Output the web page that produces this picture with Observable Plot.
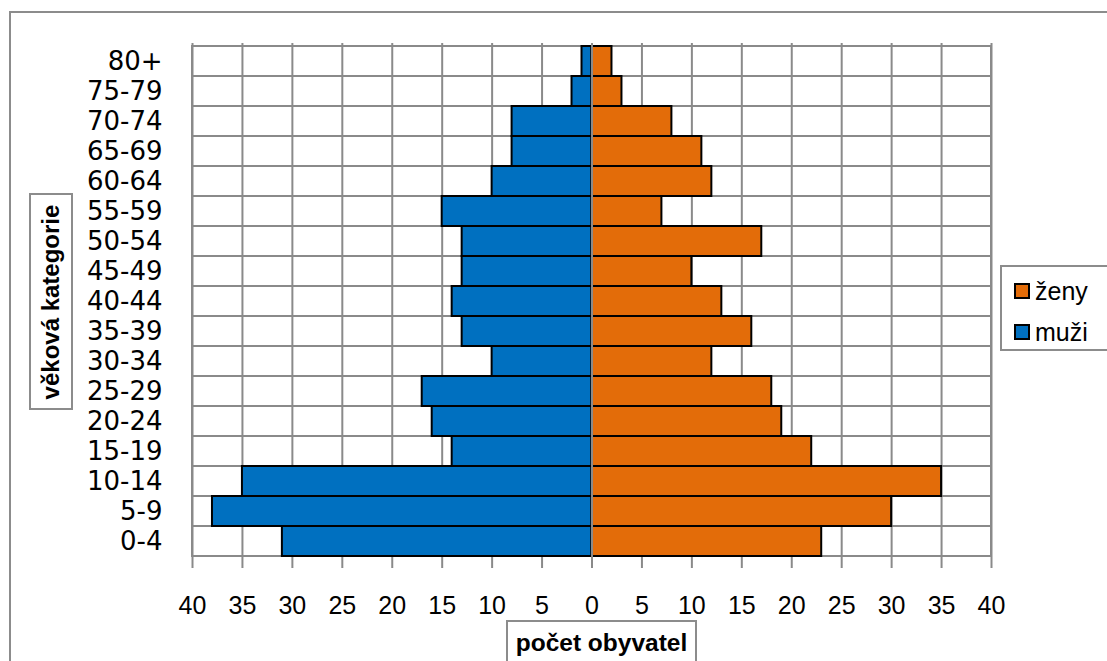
<!DOCTYPE html>
<html><head><meta charset="utf-8">
<script src="https://cdn.jsdelivr.net/npm/d3@7"></script>
<script src="https://cdn.jsdelivr.net/npm/@observablehq/plot@0.6"></script>
<style>
body{margin:0;background:#fff;}
#wrap{position:relative;width:1107px;height:661px;overflow:hidden;background:#fff;}
#wrap svg{position:absolute;left:0;top:0;}
.box{position:absolute;border:2px solid #8c8c8c;background:#fff;box-sizing:border-box;}
.lbl{font-family:"Liberation Sans","Open Sans",sans-serif;color:#000;}
</style></head>
<body>
<div id="wrap">
  <div class="box" style="left:9px;top:11px;width:1200px;height:700px;background:none;"></div>
</div>
<script>
const ages = ["0-4","5-9","10-14","15-19","20-24","25-29","30-34","35-39","40-44","45-49","50-54","55-59","60-64","65-69","70-74","75-79","80+"];
const muzi = [31,38,35,14,16,17,10,13,14,13,13,15,10,8,8,2,1];
const zeny = [23,30,35,22,19,18,12,16,13,10,17,7,12,11,8,3,2];
const xTicks = d3.range(-40, 41, 5);
const seriesNames = ["ženy","muži"];
const seriesColors = ["#E36C09","#0070C0"];

const rowsM = ages.map((a,i)=>({age:a, v:muzi[i]}));
const rowsZ = ages.map((a,i)=>({age:a, v:zeny[i]}));

const chart = Plot.plot({
  width: 1107,
  height: 661,
  marginLeft: 192,
  marginRight: 116,
  marginTop: 43,
  marginBottom: 102,
  style: {fontFamily: "'DejaVu Sans', sans-serif", fontSize: "26px", color: "#000", background: "transparent"},
  x: {domain: [-40, 40]},
  y: {domain: ages.slice().reverse(), padding: 0},
  marks: [
    Plot.gridX(xTicks, {stroke: "#8a8a8a", strokeOpacity: 1, strokeWidth: 2}),
    Plot.barX(ages, {y: d=>d, x1: -40, x2: 40, fill: "none", stroke: "#8a8a8a", strokeWidth: 2}),
    Plot.barX(rowsM, {y: "age", x1: 0, x2: d=>-d.v, fill: seriesColors[1], stroke: "#000", strokeWidth: 2}),
    Plot.barX(rowsZ, {y: "age", x1: 0, x2: d=>d.v, fill: seriesColors[0], stroke: "#000", strokeWidth: 2}),
    Plot.ruleX([0], {stroke: "#8a8a8a", strokeWidth: 2}),
    Plot.axisY({tickSize: 0, tickPadding: 30, label: null, fontSize: 26, fontFamily: "'DejaVu Sans', sans-serif"}),
    Plot.axisX({ticks: xTicks, tickFormat: d=>Math.abs(d), tickSize: 9, tickPadding: 28, label: null, stroke: "#8a8a8a", strokeWidth: 2, fontSize: 25, fontFamily: "'Liberation Sans', sans-serif"})
  ]
});
chart.querySelectorAll("text").forEach(t=>t.setAttribute("fill","#000"));
const wrap = document.getElementById("wrap");
wrap.insertBefore(chart, wrap.firstChild);

// axis titles
const yt = document.createElement("div");
yt.className = "box";
yt.style.cssText = "left:29px;top:193px;width:44px;height:217px;";
yt.innerHTML = '<div class="lbl" style="position:absolute;left:50%;top:50%;transform:translate(-50%,-50%) rotate(-90deg);white-space:nowrap;font-weight:bold;font-size:24px;">věková kategorie</div>';
wrap.appendChild(yt);

const xt = document.createElement("div");
xt.className = "box";
xt.style.cssText = "left:506px;top:620px;width:191px;height:60px;";
xt.innerHTML = '<div class="lbl" style="position:absolute;left:0;right:0;top:7px;text-align:center;white-space:nowrap;font-weight:bold;font-size:24.5px;">počet obyvatel</div>';
wrap.appendChild(xt);

// legend
const lg = document.createElement("div");
lg.className = "box";
lg.style.cssText = "left:1000px;top:265px;width:140px;height:86px;";
seriesNames.forEach((n,i)=>{
  const row = document.createElement("div");
  row.style.cssText = `position:absolute;left:12px;top:${8+i*41}px;height:32px;display:flex;align-items:center;`;
  row.innerHTML = `<span style="display:inline-block;width:12px;height:12px;background:${seriesColors[i]};border:2px solid #000;margin-right:5px;"></span><span class="lbl" style="font-size:25px;">${n}</span>`;
  lg.appendChild(row);
});
wrap.appendChild(lg);
</script>
</body></html>
